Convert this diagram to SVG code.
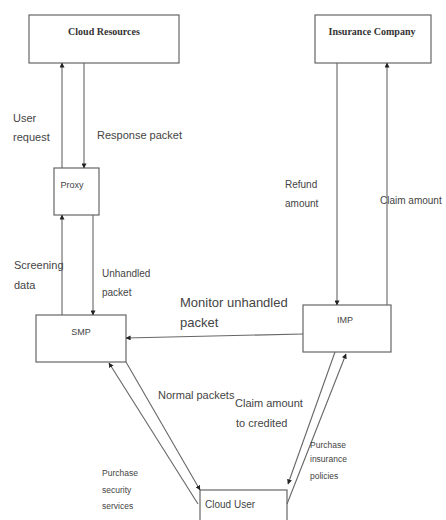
<svg xmlns="http://www.w3.org/2000/svg" width="446" height="520" viewBox="0 0 446 520">
<style>
.box{fill:#fff;stroke:#666;stroke-width:1.2}
.ln{fill:none;stroke:#666;stroke-width:1.1}
.t{font-family:"Liberation Sans",Arial,sans-serif;fill:#444}
.b{font-family:"Liberation Serif","Times New Roman",serif;font-weight:bold;fill:#333;font-size:10px}
</style>
<defs>
<marker id="ah" viewBox="0 0 6 6" refX="5.5" refY="3" markerWidth="5" markerHeight="5" orient="auto" markerUnits="userSpaceOnUse">
<path d="M0,0 L6,3 L0,6 Z" fill="#222"/>
</marker>
</defs>
<rect width="446" height="520" fill="#fff"/>
<g id="cloud-resources">
<rect class="box" x="29" y="15" width="150" height="48"/>
<text class="b" x="104" y="35" text-anchor="middle">Cloud Resources</text>
</g>
<g id="insurance-company">
<rect class="box" x="315" y="15" width="116" height="48"/>
<text class="b" x="372" y="35" text-anchor="middle">Insurance Company</text>
</g>
<g id="proxy">
<rect class="box" x="54" y="168" width="45" height="47"/>
<text class="t" x="72" y="188" font-size="9" text-anchor="middle">Proxy</text>
</g>
<g id="smp">
<rect class="box" x="36" y="315" width="90" height="47"/>
<text class="t" x="81" y="335" font-size="9" text-anchor="middle">SMP</text>
</g>
<g id="imp">
<rect class="box" x="303" y="305" width="88" height="47"/>
<text class="t" x="345" y="323" font-size="9" text-anchor="middle">IMP</text>
</g>
<g id="cloud-user">
<rect class="box" x="200" y="490" width="87" height="40"/>
<text class="t" x="205" y="508" font-size="10">Cloud User</text>
</g>
<g id="connectors">
<line class="ln" x1="62" y1="168" x2="62" y2="63" marker-end="url(#ah)"/>
<line class="ln" x1="84" y1="63" x2="84" y2="168" marker-end="url(#ah)"/>
<line class="ln" x1="62" y1="315" x2="62" y2="215" marker-end="url(#ah)"/>
<line class="ln" x1="93" y1="215" x2="93" y2="315" marker-end="url(#ah)"/>
<line class="ln" x1="337" y1="63" x2="337" y2="305" marker-end="url(#ah)"/>
<line class="ln" x1="387" y1="305" x2="387" y2="63" marker-end="url(#ah)"/>
<line class="ln" x1="303" y1="334" x2="126" y2="338" marker-end="url(#ah)"/>
<line class="ln" x1="126" y1="362" x2="200" y2="490" marker-end="url(#ah)"/>
<line class="ln" x1="198" y1="504" x2="109" y2="363" marker-end="url(#ah)"/>
<line class="ln" x1="335" y1="352" x2="288" y2="484" marker-end="url(#ah)"/>
<line class="ln" x1="287" y1="504" x2="346" y2="354" marker-end="url(#ah)"/>
</g>
<g id="labels">
<text class="t" x="13" y="122" font-size="11">User</text>
<text class="t" x="13" y="141" font-size="11">request</text>
<text class="t" x="97" y="139" font-size="11">Response packet</text>
<text class="t" x="14" y="269" font-size="11">Screening</text>
<text class="t" x="14" y="289" font-size="11">data</text>
<text class="t" x="102" y="277" font-size="10">Unhandled</text>
<text class="t" x="102" y="296" font-size="10">packet</text>
<text class="t" x="180" y="307" font-size="13">Monitor unhandled</text>
<text class="t" x="180" y="327" font-size="13">packet</text>
<text class="t" x="285" y="188" font-size="10">Refund</text>
<text class="t" x="285" y="207" font-size="10">amount</text>
<text class="t" x="380" y="204" font-size="10">Claim amount</text>
<text class="t" x="158" y="399" font-size="11">Normal packets</text>
<text class="t" x="235" y="407" font-size="11">Claim amount</text>
<text class="t" x="236" y="427" font-size="11">to credited</text>
<text class="t" x="310" y="448" font-size="8.5">Purchase</text>
<text class="t" x="310" y="462" font-size="8.5">insurance</text>
<text class="t" x="310" y="479" font-size="8.5">policies</text>
<text class="t" x="102" y="476" font-size="8.5">Purchase</text>
<text class="t" x="102" y="493" font-size="8.5">security</text>
<text class="t" x="102" y="509" font-size="8.5">services</text>
</g>
</svg>
